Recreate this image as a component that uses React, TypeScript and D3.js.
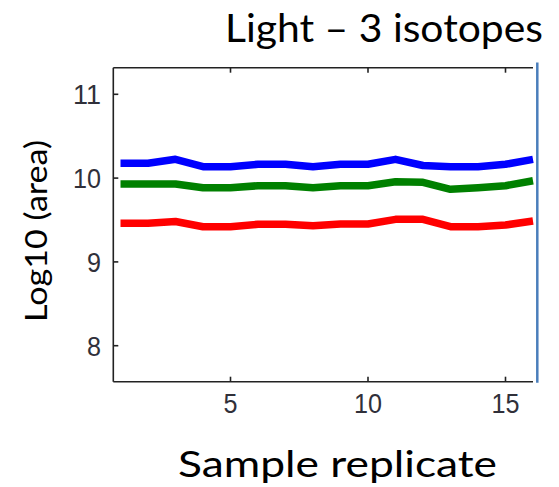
import React, { useEffect, useRef } from "react";
import * as d3 from "d3";

const replicates = d3.range(1, 17);
const blueSeries = [10.177, 10.177, 10.224, 10.136, 10.136, 10.165, 10.165, 10.136, 10.165, 10.165, 10.224, 10.15, 10.136, 10.136, 10.165, 10.224];
const greenSeries = [9.93, 9.93, 9.93, 9.885, 9.885, 9.909, 9.909, 9.885, 9.909, 9.909, 9.957, 9.95, 9.866, 9.885, 9.909, 9.969];
const redSeries = [9.461, 9.461, 9.482, 9.42, 9.42, 9.449, 9.449, 9.432, 9.452, 9.452, 9.508, 9.508, 9.42, 9.42, 9.44, 9.488];
const xTicks = [5, 10, 15];
const yTicks = [8, 9, 10, 11];
const seriesColors = ["#0000ff", "#008000", "#ff0000"];
const titleText = "Light \u2013 3 isotopes";
const xLabel = "Sample replicate";
const yLabel = "Log10 (area)";

const W = 559;
const H = 487;

export default function App() {
  const ref = useRef<SVGSVGElement | null>(null);

  useEffect(() => {
    const svg = d3.select(ref.current);
    svg.selectAll("*").remove();

    const left = 113.3, right = 533, top = 67.7, bottom = 381.7;
    const x = d3.scaleLinear().domain([1, 16]).range([120.5, 533]);
    const y = d3.scaleLinear().domain([8, 11]).range([345.7, 94.3]);

    svg.append("rect").attr("width", W).attr("height", H).attr("fill", "#fff");

    const series = [blueSeries, greenSeries, redSeries];
    const line = d3
      .line<number>()
      .x((_, i) => x(replicates[i]))
      .y((d) => y(d))
      .curve(d3.curveLinear);

    series.forEach((s, k) => {
      svg
        .append("path")
        .attr("d", line(s) as string)
        .attr("fill", "none")
        .attr("stroke", seriesColors[k])
        .attr("stroke-width", 7.5)
        .attr("stroke-linejoin", "round")
        .attr("stroke-linecap", "butt");
    });

    const ax = svg.append("g").attr("stroke", "#222").attr("stroke-width", 1.6).attr("fill", "none");
    ax.append("line").attr("x1", left).attr("x2", left).attr("y1", top).attr("y2", bottom);
    ax.append("line").attr("x1", left).attr("x2", right).attr("y1", top).attr("y2", top);
    ax.append("line").attr("x1", left).attr("x2", right).attr("y1", bottom).attr("y2", bottom);

    xTicks.forEach((t) => {
      ax.append("line").attr("x1", x(t)).attr("x2", x(t)).attr("y1", bottom).attr("y2", bottom - 5);
      ax.append("line").attr("x1", x(t)).attr("x2", x(t)).attr("y1", top).attr("y2", top + 5);
      svg
        .append("text")
        .attr("x", x(t))
        .attr("y", 412.7)
        .attr("text-anchor", "middle")
        .attr("font-family", "'Liberation Sans', Arial, sans-serif")
        .attr("font-size", 27)
        .attr("fill", "#30303a")
        .attr("textLength", String(t).length * 14)
        .attr("lengthAdjust", "spacingAndGlyphs")
        .text(String(t));
    });

    yTicks.forEach((t) => {
      ax.append("line").attr("x1", left).attr("x2", left + 5).attr("y1", y(t)).attr("y2", y(t));
      svg
        .append("text")
        .attr("x", 101)
        .attr("y", y(t) + 10)
        .attr("text-anchor", "end")
        .attr("font-family", "'Liberation Sans', Arial, sans-serif")
        .attr("font-size", 27)
        .attr("fill", "#30303a")
        .attr("textLength", String(t).length * 14)
        .attr("lengthAdjust", "spacingAndGlyphs")
        .text(String(t));
    });

    svg
      .append("line")
      .attr("x1", 537.3)
      .attr("x2", 537.3)
      .attr("y1", 62.5)
      .attr("y2", 382.7)
      .attr("stroke", "#4a7ebb")
      .attr("stroke-width", 2.5);

    const font = "Lato, 'Open Sans', sans-serif";
    svg
      .append("text")
      .attr("x", 225)
      .attr("y", 42)
      .attr("font-family", font)
      .attr("font-size", 39)
      .attr("fill", "#000")
      .attr("textLength", 318)
      .attr("lengthAdjust", "spacingAndGlyphs")
      .text(titleText);

    svg
      .append("text")
      .attr("x", 178)
      .attr("y", 476.7)
      .attr("font-family", font)
      .attr("font-size", 37)
      .attr("fill", "#000")
      .attr("textLength", 319)
      .attr("lengthAdjust", "spacingAndGlyphs")
      .text(xLabel);

    svg
      .append("text")
      .attr("transform", "translate(47,231) rotate(-90)")
      .attr("text-anchor", "middle")
      .attr("font-family", font)
      .attr("font-size", 30)
      .attr("fill", "#000")
      .attr("textLength", 182)
      .attr("lengthAdjust", "spacingAndGlyphs")
      .text(yLabel);
  }, []);

  return (
    <svg
      ref={ref}
      width={W}
      height={H}
      style={{ position: "absolute", left: 0, top: 0, display: "block" }}
    />
  );
}
